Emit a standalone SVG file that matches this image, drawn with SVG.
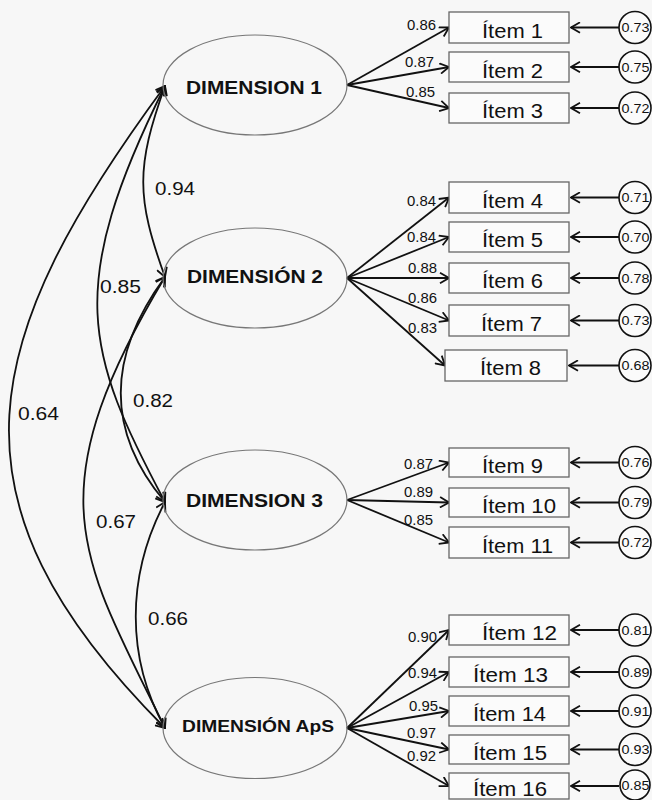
<svg xmlns="http://www.w3.org/2000/svg" width="652" height="800" viewBox="0 0 652 800">
<style>
.bg{fill:#f7f7f7}
.lat{fill:none;stroke:#777;stroke-width:1.2}
.box{fill:#fbfbfb;stroke:#666;stroke-width:1.3}
.err{fill:#fbfbfb;stroke:#111;stroke-width:1.6}
.ln{fill:none;stroke:#111;stroke-width:1.8}
.cov{marker-start:url(#ah);marker-end:url(#ah)}
.one{marker-end:url(#ah)}
.dim{font-family:"Liberation Sans",Arial,sans-serif;font-weight:bold;font-size:19px;fill:#111}
.item{font-family:"Liberation Sans",Arial,sans-serif;font-size:19.5px;fill:#111}
.ld{font-family:"Liberation Sans",Arial,sans-serif;font-size:14px;fill:#111}
.cr{font-family:"Liberation Sans",Arial,sans-serif;font-size:18px;fill:#111}
.ev{font-family:"Liberation Sans",Arial,sans-serif;font-size:13.5px;fill:#111;text-anchor:middle}
</style>
<defs>
<marker id="ah" viewBox="0 0 11 12" refX="10" refY="6" markerWidth="11" markerHeight="12" markerUnits="userSpaceOnUse" orient="auto-start-reverse">
<path d="M1,0.8 L10,6 L1,11.2" fill="none" stroke="#111" stroke-width="1.8"/>
</marker>
</defs>
<rect class="bg" x="0" y="0" width="652" height="800"/>

<g id="connectors">
<g id="covariances">
<path class="ln cov" d="M165,86 C136,167 136,197 165,277"/>
<path class="ln cov" d="M165,86 C65,287 85,352 165,502"/>
<path class="ln cov" d="M165,86 C-20,337 -65,498 165,728"/>
<path class="ln cov" d="M165,277 C106,357 106,432 165,502"/>
<path class="ln cov" d="M165,277 C33,497 82,558 165,728"/>
<path class="ln cov" d="M165,502 C126,576 126,658 165,728"/>
</g>
<g id="loadings">
<line class="ln one" x1="347" y1="85" x2="449" y2="27.5"/>
<line class="ln one" x1="347" y1="85" x2="449" y2="67"/>
<line class="ln one" x1="347" y1="85" x2="449" y2="108"/>
<line class="ln one" x1="347" y1="278" x2="449" y2="197.5"/>
<line class="ln one" x1="347" y1="278" x2="449" y2="237"/>
<line class="ln one" x1="347" y1="278" x2="449" y2="278"/>
<line class="ln one" x1="347" y1="278" x2="449" y2="320.5"/>
<line class="ln one" x1="347" y1="278" x2="445" y2="365.5"/>
<line class="ln one" x1="347" y1="500" x2="449" y2="462.5"/>
<line class="ln one" x1="347" y1="500" x2="449" y2="502.5"/>
<line class="ln one" x1="347" y1="500" x2="449" y2="542.5"/>
<line class="ln one" x1="347" y1="728" x2="449" y2="630"/>
<line class="ln one" x1="347" y1="728" x2="449" y2="672"/>
<line class="ln one" x1="347" y1="728" x2="449" y2="711"/>
<line class="ln one" x1="347" y1="728" x2="449" y2="749.5"/>
<line class="ln one" x1="347" y1="728" x2="449" y2="786"/>
</g>
<g id="errors">
<line class="ln one" x1="619" y1="27.5" x2="571" y2="27.5"/>
<line class="ln one" x1="619" y1="67" x2="571" y2="67"/>
<line class="ln one" x1="619" y1="108" x2="571" y2="108"/>
<line class="ln one" x1="619" y1="197.5" x2="571" y2="197.5"/>
<line class="ln one" x1="619" y1="237" x2="571" y2="237"/>
<line class="ln one" x1="619" y1="278" x2="571" y2="278"/>
<line class="ln one" x1="619" y1="320.5" x2="571" y2="320.5"/>
<line class="ln one" x1="619" y1="365.5" x2="569" y2="365.5"/>
<line class="ln one" x1="619" y1="462.5" x2="571" y2="462.5"/>
<line class="ln one" x1="619" y1="502.5" x2="571" y2="502.5"/>
<line class="ln one" x1="619" y1="542.5" x2="571" y2="542.5"/>
<line class="ln one" x1="619" y1="630" x2="571" y2="630"/>
<line class="ln one" x1="619" y1="672" x2="571" y2="672"/>
<line class="ln one" x1="619" y1="711" x2="571" y2="711"/>
<line class="ln one" x1="619" y1="749.5" x2="571" y2="749.5"/>
<line class="ln one" x1="619" y1="786" x2="571" y2="786"/>
</g>
<g id="labels">
<text class="cr" x="155" y="195" textLength="40" lengthAdjust="spacingAndGlyphs">0.94</text>
<text class="cr" x="100" y="293" textLength="41" lengthAdjust="spacingAndGlyphs">0.85</text>
<text class="cr" x="133" y="407" textLength="40" lengthAdjust="spacingAndGlyphs">0.82</text>
<text class="cr" x="18" y="420" textLength="41" lengthAdjust="spacingAndGlyphs">0.64</text>
<text class="cr" x="96" y="528" textLength="40" lengthAdjust="spacingAndGlyphs">0.67</text>
<text class="cr" x="148" y="625" textLength="40" lengthAdjust="spacingAndGlyphs">0.66</text>
<text class="ld" x="407" y="30" textLength="29" lengthAdjust="spacingAndGlyphs">0.86</text>
<text class="ld" x="405" y="67" textLength="29" lengthAdjust="spacingAndGlyphs">0.87</text>
<text class="ld" x="406" y="97" textLength="29" lengthAdjust="spacingAndGlyphs">0.85</text>
<text class="ld" x="407" y="206" textLength="29" lengthAdjust="spacingAndGlyphs">0.84</text>
<text class="ld" x="407" y="242" textLength="29" lengthAdjust="spacingAndGlyphs">0.84</text>
<text class="ld" x="408" y="273" textLength="29" lengthAdjust="spacingAndGlyphs">0.88</text>
<text class="ld" x="408" y="303" textLength="29" lengthAdjust="spacingAndGlyphs">0.86</text>
<text class="ld" x="408" y="333" textLength="29" lengthAdjust="spacingAndGlyphs">0.83</text>
<text class="ld" x="404" y="469" textLength="29" lengthAdjust="spacingAndGlyphs">0.87</text>
<text class="ld" x="404" y="497" textLength="29" lengthAdjust="spacingAndGlyphs">0.89</text>
<text class="ld" x="404" y="525" textLength="29" lengthAdjust="spacingAndGlyphs">0.85</text>
<text class="ld" x="408" y="642" textLength="29" lengthAdjust="spacingAndGlyphs">0.90</text>
<text class="ld" x="408" y="678" textLength="29" lengthAdjust="spacingAndGlyphs">0.94</text>
<text class="ld" x="409" y="711" textLength="29" lengthAdjust="spacingAndGlyphs">0.95</text>
<text class="ld" x="407" y="738" textLength="29" lengthAdjust="spacingAndGlyphs">0.97</text>
<text class="ld" x="407" y="761" textLength="29" lengthAdjust="spacingAndGlyphs">0.92</text>
</g>
</g>

<g id="dim1"><ellipse class="lat" cx="255" cy="85" rx="92" ry="50"/><text class="dim" x="186" y="94" textLength="136" lengthAdjust="spacingAndGlyphs">DIMENSION 1</text></g>
<g id="dim2"><ellipse class="lat" cx="255" cy="278" rx="92" ry="50"/><text class="dim" x="187" y="283" textLength="136" lengthAdjust="spacingAndGlyphs">DIMENSIÓN 2</text></g>
<g id="dim3"><ellipse class="lat" cx="255" cy="500" rx="92" ry="50"/><text class="dim" x="186" y="507" textLength="137" lengthAdjust="spacingAndGlyphs">DIMENSION 3</text></g>
<g id="dimaps"><ellipse class="lat" cx="255" cy="728" rx="92" ry="50.5"/><text class="dim" style="font-size:17px" x="182" y="732" textLength="152" lengthAdjust="spacingAndGlyphs">DIMENSIÓN ApS</text></g>

<g id="item1"><rect class="box" x="449" y="12" width="120" height="31"/><text class="item" x="482" y="38" textLength="61" lengthAdjust="spacingAndGlyphs">Ítem 1</text></g>
<g id="item2"><rect class="box" x="449" y="52" width="120" height="30"/><text class="item" x="482" y="77.5" textLength="61" lengthAdjust="spacingAndGlyphs">Ítem 2</text></g>
<g id="item3"><rect class="box" x="449" y="93" width="120" height="30"/><text class="item" x="482" y="118" textLength="61" lengthAdjust="spacingAndGlyphs">Ítem 3</text></g>
<g id="item4"><rect class="box" x="449" y="182" width="120" height="31"/><text class="item" x="482" y="207.5" textLength="61" lengthAdjust="spacingAndGlyphs">Ítem 4</text></g>
<g id="item5"><rect class="box" x="449" y="222" width="120" height="30"/><text class="item" x="482" y="247" textLength="61" lengthAdjust="spacingAndGlyphs">Ítem 5</text></g>
<g id="item6"><rect class="box" x="449" y="263" width="120" height="30"/><text class="item" x="482" y="288" textLength="61" lengthAdjust="spacingAndGlyphs">Ítem 6</text></g>
<g id="item7"><rect class="box" x="449" y="305" width="120" height="31"/><text class="item" x="481" y="331" textLength="61" lengthAdjust="spacingAndGlyphs">Ítem 7</text></g>
<g id="item8"><rect class="box" x="445" y="350" width="122" height="31"/><text class="item" x="480" y="375" textLength="61" lengthAdjust="spacingAndGlyphs">Ítem 8</text></g>
<g id="item9"><rect class="box" x="449" y="448" width="120" height="29"/><text class="item" x="482" y="472.5" textLength="61" lengthAdjust="spacingAndGlyphs">Ítem 9</text></g>
<g id="item10"><rect class="box" x="449" y="488" width="120" height="29"/><text class="item" x="482" y="512.5" textLength="74" lengthAdjust="spacingAndGlyphs">Ítem 10</text></g>
<g id="item11"><rect class="box" x="449" y="527" width="120" height="31"/><text class="item" x="482" y="553" textLength="71" lengthAdjust="spacingAndGlyphs">Ítem 11</text></g>
<g id="item12"><rect class="box" x="449" y="615" width="120" height="30"/><text class="item" x="482" y="640" textLength="75" lengthAdjust="spacingAndGlyphs">Ítem 12</text></g>
<g id="item13"><rect class="box" x="449" y="657" width="120" height="30"/><text class="item" x="473" y="682" textLength="75" lengthAdjust="spacingAndGlyphs">Ítem 13</text></g>
<g id="item14"><rect class="box" x="449" y="696" width="120" height="30"/><text class="item" x="473" y="721" textLength="73" lengthAdjust="spacingAndGlyphs">Ítem 14</text></g>
<g id="item15"><rect class="box" x="449" y="735" width="120" height="29"/><text class="item" x="473" y="759.5" textLength="74" lengthAdjust="spacingAndGlyphs">Ítem 15</text></g>
<g id="item16"><rect class="box" x="449" y="773" width="120" height="26"/><text class="item" x="473" y="796" textLength="74" lengthAdjust="spacingAndGlyphs">Ítem 16</text></g>

<g id="e1"><circle class="err" cx="635" cy="27.5" r="16"/><text class="ev" x="635.5" y="32" textLength="28" lengthAdjust="spacingAndGlyphs">0.73</text></g>
<g id="e2"><circle class="err" cx="635" cy="67" r="16"/><text class="ev" x="635.5" y="71.5" textLength="28" lengthAdjust="spacingAndGlyphs">0.75</text></g>
<g id="e3"><circle class="err" cx="635" cy="108" r="16"/><text class="ev" x="635.5" y="112.5" textLength="28" lengthAdjust="spacingAndGlyphs">0.72</text></g>
<g id="e4"><circle class="err" cx="635" cy="197.5" r="16"/><text class="ev" x="635.5" y="202" textLength="28" lengthAdjust="spacingAndGlyphs">0.71</text></g>
<g id="e5"><circle class="err" cx="635" cy="237" r="16"/><text class="ev" x="635.5" y="241.5" textLength="28" lengthAdjust="spacingAndGlyphs">0.70</text></g>
<g id="e6"><circle class="err" cx="635" cy="278" r="16"/><text class="ev" x="635.5" y="282.5" textLength="28" lengthAdjust="spacingAndGlyphs">0.78</text></g>
<g id="e7"><circle class="err" cx="635" cy="320.5" r="16"/><text class="ev" x="635.5" y="325" textLength="28" lengthAdjust="spacingAndGlyphs">0.73</text></g>
<g id="e8"><circle class="err" cx="635" cy="365.5" r="16"/><text class="ev" x="635.5" y="370" textLength="28" lengthAdjust="spacingAndGlyphs">0.68</text></g>
<g id="e9"><circle class="err" cx="635" cy="462.5" r="16"/><text class="ev" x="635.5" y="467" textLength="28" lengthAdjust="spacingAndGlyphs">0.76</text></g>
<g id="e10"><circle class="err" cx="635" cy="502.5" r="16"/><text class="ev" x="635.5" y="507" textLength="28" lengthAdjust="spacingAndGlyphs">0.79</text></g>
<g id="e11"><circle class="err" cx="635" cy="542.5" r="16"/><text class="ev" x="635.5" y="547" textLength="28" lengthAdjust="spacingAndGlyphs">0.72</text></g>
<g id="e12"><circle class="err" cx="635" cy="630" r="16"/><text class="ev" x="635.5" y="634.5" textLength="28" lengthAdjust="spacingAndGlyphs">0.81</text></g>
<g id="e13"><circle class="err" cx="635" cy="672" r="16"/><text class="ev" x="635.5" y="676.5" textLength="28" lengthAdjust="spacingAndGlyphs">0.89</text></g>
<g id="e14"><circle class="err" cx="635" cy="711" r="16"/><text class="ev" x="635.5" y="715.5" textLength="28" lengthAdjust="spacingAndGlyphs">0.91</text></g>
<g id="e15"><circle class="err" cx="635" cy="749.5" r="16"/><text class="ev" x="635.5" y="754" textLength="28" lengthAdjust="spacingAndGlyphs">0.93</text></g>
<g id="e16"><circle class="err" cx="635" cy="785" r="15"/><text class="ev" x="635.5" y="789.5" textLength="28" lengthAdjust="spacingAndGlyphs">0.85</text></g>
</svg>
